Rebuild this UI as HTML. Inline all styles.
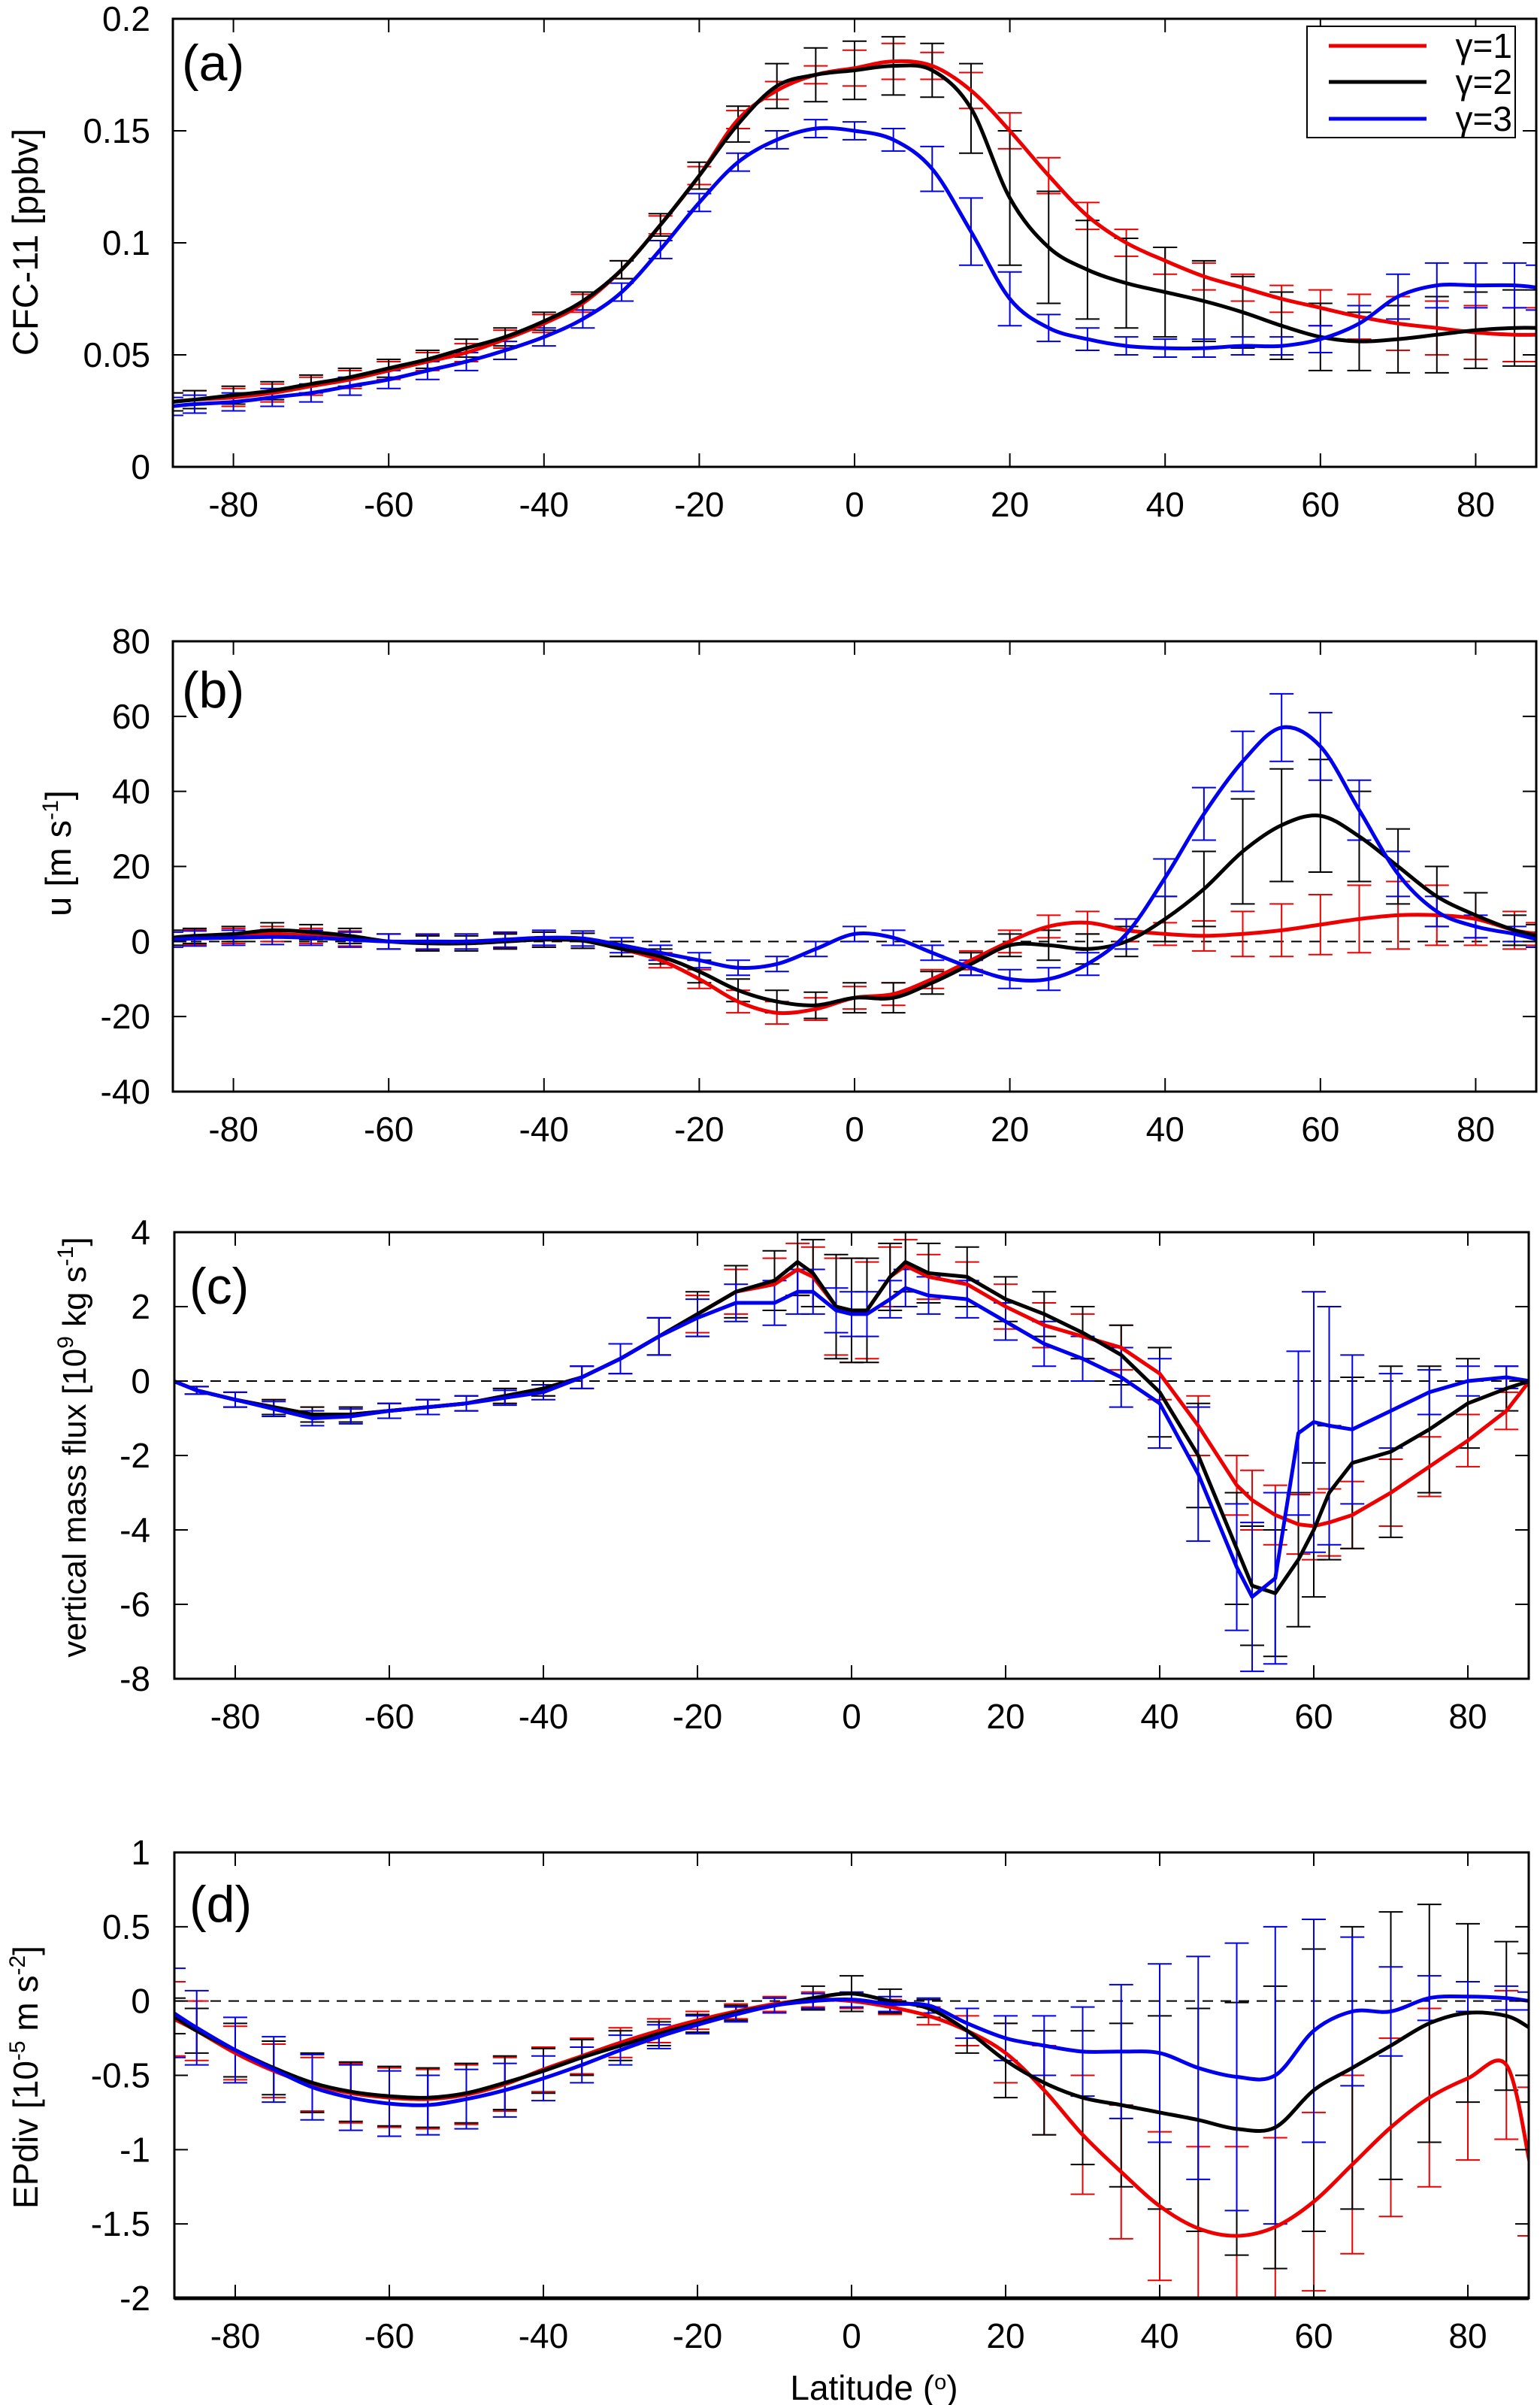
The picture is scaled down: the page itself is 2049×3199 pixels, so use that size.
<!DOCTYPE html>
<html><head><meta charset="utf-8"><style>
html,body{margin:0;padding:0;background:#fff;}
svg{display:block;font-family:"Liberation Sans",sans-serif;}
</style></head><body>
<svg id="fig" width="2049" height="3199" viewBox="0 0 2049 3199" xmlns="http://www.w3.org/2000/svg"></svg>
<script>
const xTicks=[-80,-60,-40,-20,0,20,40,60,80];
const L1=[-88,-85,-80,-75,-70,-65,-60,-55,-50,-45,-40,-35,-30,-25,-20,-15,-10,-5,0,5,10,15,20,25,30,35,40,45,50,55,60,65,70,75,80,85,88];
const Lc=[-88,-85,-80,-75,-70,-65,-60,-55,-50,-45,-40,-35,-30,-25,-20,-15,-10,-7,-5,-2,0,2,5,7,10,15,20,25,30,35,40,45,50,52,55,58,60,62,65,70,75,80,85,88];
// panel a: CFC-11
const aRed=[.029,.030,.031,.033,.036,.039,.043,.047,.051,.057,.064,.073,.088,.108,.130,.155,.168,.175,.178,.181,.179,.168,.150,.130,.112,.100,.092,.085,.080,.075,.071,.067,.064,.062,.060,.059,.059];
const aRedErr=[.004,.004,.004,.004,.004,.004,.004,.004,.004,.004,.004,.004,.004,.004,.004,.004,.004,.004,.008,.008,.006,.008,.008,.008,.006,.006,.006,.006,.006,.006,.008,.010,.012,.012,.012,.012,.012];
const aBlk=[.029,.030,.032,.034,.037,.040,.044,.048,.053,.058,.065,.074,.088,.108,.130,.153,.170,.175,.177,.179,.177,.160,.120,.098,.088,.082,.078,.074,.069,.063,.058,.056,.057,.059,.061,.062,.062];
const aBlkErr=[.004,.004,.004,.004,.004,.004,.004,.004,.004,.004,.004,.004,.004,.005,.006,.008,.010,.012,.013,.013,.012,.020,.030,.025,.022,.020,.020,.018,.016,.015,.015,.013,.015,.017,.017,.017,.017];
const aBlu=[.027,.028,.029,.031,.033,.036,.039,.043,.047,.052,.058,.066,.078,.097,.118,.136,.146,.151,.150,.146,.133,.105,.075,.062,.057,.054,.053,.053,.054,.054,.057,.064,.076,.081,.081,.081,.080];
const aBluErr=[.004,.004,.004,.004,.004,.004,.004,.004,.004,.004,.004,.004,.004,.004,.004,.004,.004,.004,.004,.005,.010,.015,.012,.006,.005,.004,.004,.004,.004,.004,.006,.008,.010,.010,.010,.010,.010];
// panel b: u
const bRed=[1,1.2,1.5,2,1.5,0.8,0,-0.3,0,0.3,0.5,0.2,-2,-5,-10,-16,-19,-18,-15,-14,-10,-5,0,4,5,3,2,1.5,2,3,4.5,6,7,7,6,3,2];
const bRedErr=[2,2,2,2,2,2,2,2,2,2,2,2,2,2,2.5,3,3,3,3,3,2.5,2.5,3,3,3,3,3,4,6,7,8,9,9,8,7,5,3];
const bBlk=[1,1.5,2,3,2.5,1.5,0,-0.5,-0.5,0,0.5,0.2,-2,-4,-8,-13,-16,-17,-15,-15,-11,-6,-1,-1,-2,0,6,14,24,31,33.5,28,20,12,7,3,1.5];
const bBlkErr=[2,2,2,2,2,2,2,2,2,2,2,2,2,2,3,3,3,3.5,4,4,3,3,3,4,4,4,6,10,14,15,15,12,10,8,6,4,3];
const bBlu=[0.5,0.8,1,1.2,1,0.5,0,0,0,0.5,1,0.8,-1,-3,-5,-7,-6,-2,2,1,-3,-7,-10,-10,-6,2,17,34,48,57,52,35,18,8,4,2,0.5];
const bBluErr=[2,2,2,2,2,2,2,2,2,2,2,2,2,2,2,2,2,2,2,2,2,2,2.5,3,3,4,5,7,8,9,9,8,6,4,3,2,2];
// panel c: vertical mass flux
const cRed=[0,-0.25,-0.5,-0.7,-0.9,-0.9,-0.8,-0.7,-0.6,-0.4,-0.2,0.1,0.6,1.2,1.8,2.4,2.6,3.0,2.8,2.0,1.9,1.9,2.8,3.1,2.8,2.6,2.0,1.5,1.2,0.9,0.2,-1.2,-2.8,-3.2,-3.6,-3.85,-3.9,-3.8,-3.6,-3.0,-2.3,-1.6,-0.8,0];
const cRedErr=[0,0.1,0.2,0.2,0.2,0.2,0.2,0.2,0.2,0.2,0.2,0.3,0.4,0.5,0.5,0.6,0.7,0.7,0.8,1.3,1.4,1.3,0.8,0.7,0.6,0.6,0.6,0.6,0.6,0.6,0.7,0.8,0.8,0.8,0.8,0.8,0.9,0.9,0.9,0.9,0.8,0.7,0.5,0];
const cBlk=[0,-0.25,-0.5,-0.7,-0.9,-0.9,-0.8,-0.7,-0.6,-0.4,-0.2,0.1,0.6,1.2,1.8,2.4,2.7,3.2,2.9,2.0,1.9,1.9,2.8,3.2,2.9,2.8,2.2,1.8,1.3,0.7,-0.3,-2.0,-4.5,-5.5,-5.7,-4.8,-4.0,-3.0,-2.2,-1.9,-1.3,-0.6,-0.2,0];
const cBlkErr=[0,0.1,0.2,0.2,0.2,0.2,0.2,0.2,0.2,0.2,0.2,0.3,0.4,0.5,0.6,0.7,0.8,0.9,0.9,1.4,1.4,1.4,0.9,0.8,0.8,0.8,0.6,0.6,0.7,0.8,1.2,1.4,1.5,1.6,1.7,1.8,1.8,1.8,2.3,2.3,1.7,1.2,0.6,0];
const cBlu=[0,-0.25,-0.5,-0.75,-1.0,-0.95,-0.8,-0.7,-0.6,-0.45,-0.3,0.1,0.6,1.2,1.7,2.1,2.1,2.4,2.4,1.9,1.8,1.8,2.2,2.5,2.3,2.2,1.6,1.0,0.6,0.1,-0.6,-2.5,-5.0,-5.8,-5.3,-1.4,-1.1,-1.2,-1.3,-0.8,-0.3,0,0.1,0];
const cBluErr=[0,0.1,0.2,0.2,0.2,0.2,0.2,0.2,0.2,0.2,0.2,0.3,0.4,0.5,0.5,0.5,0.6,0.6,0.6,0.6,0.6,0.6,0.5,0.5,0.5,0.5,0.5,0.6,0.6,0.8,1.2,1.8,1.7,2.0,2.3,2.2,3.5,3.2,2.0,1.0,0.6,0.4,0.3,0];
// panel d: EP divergence
const dRed=[-0.12,-0.2,-0.35,-0.47,-0.56,-0.62,-0.65,-0.66,-0.63,-0.56,-0.46,-0.37,-0.28,-0.2,-0.13,-0.07,-0.02,0.01,0.0,-0.04,-0.1,-0.2,-0.35,-0.6,-0.9,-1.15,-1.38,-1.53,-1.58,-1.52,-1.35,-1.1,-0.85,-0.65,-0.52,-0.43,-1.08];
const dRedErr=[0.25,0.2,0.18,0.18,0.18,0.2,0.2,0.2,0.2,0.18,0.15,0.12,0.1,0.08,0.06,0.05,0.05,0.05,0.05,0.05,0.06,0.1,0.2,0.3,0.4,0.45,0.5,0.55,0.6,0.6,0.6,0.6,0.6,0.6,0.55,0.5,0.5];
const dBlk=[-0.1,-0.2,-0.33,-0.45,-0.55,-0.61,-0.64,-0.65,-0.62,-0.55,-0.47,-0.38,-0.3,-0.22,-0.15,-0.08,-0.03,0.02,0.05,0.0,-0.05,-0.2,-0.4,-0.55,-0.65,-0.7,-0.75,-0.8,-0.86,-0.85,-0.6,-0.45,-0.3,-0.15,-0.08,-0.1,-0.18];
const dBlkErr=[0.12,0.15,0.18,0.18,0.2,0.2,0.2,0.2,0.2,0.18,0.15,0.12,0.1,0.08,0.06,0.05,0.05,0.08,0.12,0.08,0.06,0.15,0.25,0.35,0.45,0.55,0.65,0.75,0.85,0.95,0.95,0.95,0.9,0.8,0.6,0.5,0.5];
const dBlu=[-0.08,-0.18,-0.33,-0.46,-0.58,-0.65,-0.69,-0.7,-0.66,-0.6,-0.52,-0.43,-0.33,-0.24,-0.16,-0.09,-0.03,0.0,0.01,-0.02,-0.03,-0.15,-0.25,-0.3,-0.34,-0.34,-0.35,-0.45,-0.51,-0.5,-0.2,-0.07,-0.07,0.02,0.03,0.02,0.0];
const dBluErr=[0.3,0.25,0.22,0.22,0.22,0.22,0.22,0.2,0.2,0.18,0.15,0.12,0.1,0.08,0.06,0.05,0.05,0.05,0.05,0.05,0.05,0.1,0.15,0.2,0.3,0.45,0.6,0.75,0.9,1.0,0.75,0.5,0.3,0.15,0.1,0.08,0.06];
const aYTicks=[0,0.05,0.1,0.15,0.2];
const bYTicks=[-40,-20,0,20,40,60,80];
const cYTicks=[-8,-6,-4,-2,0,2,4];
const dYTicks=[-2,-1.5,-1,-0.5,0,0.5,1];

const NS="http://www.w3.org/2000/svg";
const svg=document.getElementById('fig');
function mk(tag,attrs,parent){const e=document.createElementNS(NS,tag);for(const k in attrs)e.setAttribute(k,attrs[k]);(parent||svg).appendChild(e);return e;}
const COL={red:'#ee0000',black:'#000000',blue:'#0000ee'};

function pathFor(pts,smooth){
  if(!smooth) return pts.map((q,i)=>(i?'L':'M')+q[0].toFixed(1)+','+q[1].toFixed(1)).join('');
  let d='M'+pts[0][0].toFixed(1)+','+pts[0][1].toFixed(1);
  for(let i=0;i<pts.length-1;i++){
    const p0=pts[Math.max(0,i-1)],p1=pts[i],p2=pts[i+1],p3=pts[Math.min(pts.length-1,i+2)];
    const c1=[p1[0]+(p2[0]-p0[0])/6,p1[1]+(p2[1]-p0[1])/6];
    const c2=[p2[0]-(p3[0]-p1[0])/6,p2[1]-(p3[1]-p1[1])/6];
    d+='C'+c1[0].toFixed(1)+','+c1[1].toFixed(1)+' '+c2[0].toFixed(1)+','+c2[1].toFixed(1)+' '+p2[0].toFixed(1)+','+p2[1].toFixed(1);
  }
  return d;
}

function panel(p){
  const g=mk('g',{});
  
  
  const sx=v=>p.x0+(v-p.xmin)/(p.xmax-p.xmin)*(p.x1-p.x0);
  const sy=v=>p.y1-(v-p.ymin)/(p.ymax-p.ymin)*(p.y1-p.y0);
  const cid='clip-'+p.id;
  const cp=mk('clipPath',{id:cid},g);
  mk('rect',{x:p.x0,y:p.y0,width:p.x1-p.x0,height:p.y1-p.y0},cp);
  if(p.zero){
    const z=mk('line',{x1:p.x0,x2:p.x1,y1:sy(0),y2:sy(0),stroke:'#000','stroke-width':2,'stroke-dasharray':'14,10'},g);
    
    
  }
  const plot=mk('g',{'clip-path':'url(#'+cid+')'},g);
  p.series.forEach(s=>{
    const eg=mk('g',{stroke:COL[s.c],'stroke-width':2,fill:'none'},plot);
    
    
    p.lats.forEach((la,i)=>{
      const x=sx(la),yt=sy(s.v[i]+s.e[i]),yb=sy(s.v[i]-s.e[i]);
      mk('line',{x1:x,x2:x,y1:yt,y2:yb},eg);
      mk('line',{x1:x-16,x2:x+16,y1:yt,y2:yt},eg);
      mk('line',{x1:x-16,x2:x+16,y1:yb,y2:yb},eg);
    });
  });
  p.series.forEach(s=>{
    const pts=p.lats.map((la,i)=>[sx(la),sy(s.v[i])]);
    const pl=mk('path',{d:pathFor(pts,p.smooth),stroke:COL[s.c],'stroke-width':5,fill:'none','stroke-linejoin':'round'},plot);
    
    
  });
  const fr=mk('rect',{x:p.x0,y:p.y0,width:p.x1-p.x0,height:p.y1-p.y0,fill:'none',stroke:'#000','stroke-width':3},g);
  
  
  const ax=mk('g',{},g);
  
  
  xTicks.forEach(t=>{
    const x=sx(t);
    mk('line',{x1:x,x2:x,y1:p.y1,y2:p.y1-18,stroke:'#000','stroke-width':2},ax);
    mk('line',{x1:x,x2:x,y1:p.y0,y2:p.y0+18,stroke:'#000','stroke-width':2},ax);
    const tx=mk('text',{x:x,y:p.y1+66,'font-size':46,'text-anchor':'middle',fill:'#000'},ax);
    tx.textContent=t;
    
    
  });
  const ay=mk('g',{},g);
  
  
  p.yticks.forEach(t=>{
    const y=sy(t);
    mk('line',{x1:p.x0,x2:p.x0+18,y1:y,y2:y,stroke:'#000','stroke-width':2},ay);
    mk('line',{x1:p.x1,x2:p.x1-18,y1:y,y2:y,stroke:'#000','stroke-width':2},ay);
    const tx=mk('text',{x:200,y:y+16,'font-size':46,'text-anchor':'end',fill:'#000'},ay);
    tx.textContent=String(t);
    
    
  });
  const yt=mk('text',{x:0,y:0,'font-size':p.tfs||45,'text-anchor':'middle',fill:'#000',transform:'translate('+p.tx+','+p.ty+') rotate(-90)'},g);
  yt.innerHTML=p.title;
  
  
  const pl=mk('text',{x:p.lx,y:p.y0+p.ly,'font-size':68,fill:'#000'},g);
  pl.textContent='('+p.id+')';
  
  
}

panel({id:'a',x0:230,x1:2044,y0:25,y1:621,xmin:-87.8,xmax:87.8,ymin:0,ymax:0.2,yticks:aYTicks,lats:L1,zero:false,smooth:true,
  tx:50,ty:322,tfs:47,title:'CFC-11 [ppbv]',lx:242,ly:82,
  series:[{name:'gamma1',c:'red',v:aRed,e:aRedErr},{name:'gamma2',c:'black',v:aBlk,e:aBlkErr},{name:'gamma3',c:'blue',v:aBlu,e:aBluErr}]});
panel({id:'b',x0:230,x1:2044,y0:853,y1:1452,xmin:-87.8,xmax:87.8,ymin:-40,ymax:80,yticks:bYTicks,lats:L1,zero:true,smooth:true,
  tx:94,ty:1135,tfs:47,title:'u [m s<tspan dy="-17" font-size="30">-1</tspan><tspan dy="17">]</tspan>',lx:242,ly:88,
  series:[{name:'gamma1',c:'red',v:bRed,e:bRedErr},{name:'gamma2',c:'black',v:bBlk,e:bBlkErr},{name:'gamma3',c:'blue',v:bBlu,e:bBluErr}]});
panel({id:'c',x0:232,x1:2034,y0:1639,y1:2233,xmin:-87.9,xmax:87.9,ymin:-8,ymax:4,yticks:cYTicks,lats:Lc,zero:true,smooth:false,
  tx:114,ty:1925,tfs:44,title:'vertical mass flux [10<tspan dy="-17" font-size="30">9</tspan><tspan dy="17"> kg s</tspan><tspan dy="-17" font-size="30">-1</tspan><tspan dy="17">]</tspan>',lx:252,ly:95,
  series:[{name:'gamma1',c:'red',v:cRed,e:cRedErr},{name:'gamma2',c:'black',v:cBlk,e:cBlkErr},{name:'gamma3',c:'blue',v:cBlu,e:cBluErr}]});
panel({id:'d',x0:232,x1:2034,y0:2464,y1:3057,xmin:-87.9,xmax:87.9,ymin:-2,ymax:1,yticks:dYTicks,lats:L1,zero:true,smooth:true,
  tx:50,ty:2763,tfs:46,title:'EPdiv [10<tspan dy="-17" font-size="30">-5</tspan><tspan dy="17"> m s</tspan><tspan dy="-17" font-size="30">-2</tspan><tspan dy="17">]</tspan>',lx:252,ly:92,
  series:[{name:'gamma1',c:'red',v:dRed,e:dRedErr},{name:'gamma2',c:'black',v:dBlk,e:dBlkErr},{name:'gamma3',c:'blue',v:dBlu,e:dBluErr}]});

// thicker bottom axis on panel d
const db=mk('line',{x1:232,x2:2034,y1:3057,y2:3057,stroke:'#000','stroke-width':5});



// x-axis title
const xt=mk('text',{x:1163,y:3192,'font-size':46,'text-anchor':'middle',fill:'#000'});
xt.innerHTML='Latitude (<tspan dy="-14" font-size="29">o</tspan><tspan dy="14">)</tspan>';



// legend
const lg=mk('g',{});


mk('rect',{x:1739,y:35,width:277,height:148,fill:'#fff',stroke:'#000','stroke-width':2},lg);
const legItems=[['red','γ=1',61],['black','γ=2',109],['blue','γ=3',158]];
legItems.forEach(it=>{
  const e=mk('g',{},lg);
  
  
  mk('line',{x1:1768,x2:1898,y1:it[2],y2:it[2],stroke:COL[it[0]],'stroke-width':5},e);
  const t=mk('text',{x:2012,y:it[2]+16,'font-size':46,'text-anchor':'end',fill:'#000'},e);
  t.textContent=it[1];
});
</script>
</body></html>
